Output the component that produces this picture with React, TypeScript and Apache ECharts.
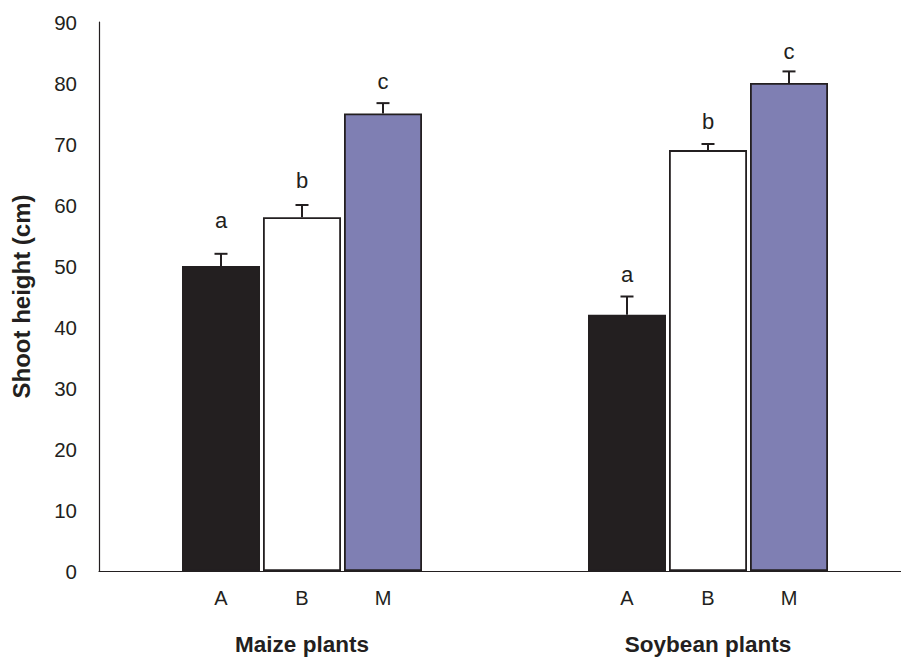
import React, { useEffect, useRef } from "react";
import * as echarts from "echarts";

const groups = ["Maize plants", "Soybean plants"];
const treatments = ["A", "B", "M"];
const heights: number[][] = [
  [50, 42],
  [58, 69],
  [75, 80],
];
const errors: number[][] = [
  [2.0, 3.0],
  [2.0, 1.0],
  [1.7, 1.9],
];
const letters: string[][] = [
  ["a", "a"],
  ["b", "b"],
  ["c", "c"],
];
// baseline level (in cm) of each significance letter
const letterAt: number[][] = [
  [56.2, 47.4],
  [62.8, 72.4],
  [79.0, 84.0],
];
const yTicks = { min: 0, max: 90, interval: 10 };

const fills = ["#231f20", "#ffffff", "#7f7fb3"];
const ink = "#231f20";
const FONT = "Liberation Sans, Arial, sans-serif";
const BAR_W = 78;
const BAR_GAP = 3;

export default function App() {
  const ref = useRef<HTMLDivElement>(null);
  useEffect(() => {
    if (!ref.current) return;
    const chart = echarts.init(ref.current, undefined, { renderer: "svg" });
    const barSeries = treatments.map((t, i) => ({
      type: "bar",
      name: t,
      data: heights[i],
      barWidth: BAR_W,
      barGap: ((BAR_GAP / BAR_W) * 100).toFixed(2) + "%",
      itemStyle: { color: fills[i], borderColor: ink, borderWidth: 1.8 },
      label: {
        show: true,
        position: "bottom",
        distance: 17,
        formatter: t,
        color: ink,
        fontFamily: FONT,
        fontSize: 20,
      },
      emphasis: { disabled: true },
      silent: true,
      z: 2,
    }));
    const errSeries = treatments.map((t, i) => ({
      type: "custom",
      name: t + "-err",
      data: heights[i].map((h, j) => [j, h, errors[i][j], letterAt[i][j]]),
      silent: true,
      z: 3,
      renderItem: (params: any, api: any) => {
        const j = api.value(0);
        const h = api.value(1);
        const e = api.value(2);
        const ly = api.value(3);
        const letter = letters[i][j];
        const off = (i - 1) * (BAR_W + BAR_GAP);
        const base = api.coord([j, h]);
        const top = api.coord([j, h + e]);
        const lp = api.coord([j, ly]);
        const x = base[0] + off;
        return {
          type: "group",
          children: [
            {
              type: "line",
              shape: { x1: x, y1: base[1], x2: x, y2: top[1] },
              style: { stroke: ink, lineWidth: 2 },
            },
            {
              type: "line",
              shape: { x1: x - 6.5, y1: top[1], x2: x + 6.5, y2: top[1] },
              style: { stroke: ink, lineWidth: 2 },
            },
            {
              type: "text",
              x: x,
              y: lp[1] - 7.5,
              style: {
                text: letter,
                fill: ink,
                font: "22px " + FONT,
                align: "center",
                verticalAlign: "middle",
              },
            },
          ],
        };
      },
    }));
    chart.setOption({
      animation: false,
      backgroundColor: "#ffffff",
      grid: { left: 99, top: 22, width: 812, bottom: 87 },
      xAxis: {
        type: "category",
        data: groups,
        axisLine: { lineStyle: { color: ink, width: 1.2 } },
        axisTick: { show: false },
        axisLabel: {
          margin: 62,
          color: ink,
          fontFamily: FONT,
          fontSize: 22.5,
          fontWeight: "bold",
        },
      },
      yAxis: {
        type: "value",
        min: yTicks.min,
        max: yTicks.max,
        interval: yTicks.interval,
        name: "Shoot height (cm)",
        nameLocation: "middle",
        nameGap: 66,
        nameTextStyle: { color: ink, fontFamily: FONT, fontSize: 24, fontWeight: "bold" },
        axisLine: { show: true, lineStyle: { color: ink, width: 1.2 } },
        axisTick: { show: false },
        splitLine: { show: false },
        axisLabel: { margin: 22, color: ink, fontFamily: FONT, fontSize: 20.5 },
      },
      series: [...barSeries, ...errSeries],
    });
    return () => chart.dispose();
  }, []);
  return (
    <div style={{ position: "fixed", left: 0, top: 0, width: 901, height: 658, overflow: "hidden" }}>
      <div ref={ref} style={{ width: 930, height: 658 }} />
    </div>
  );
}
